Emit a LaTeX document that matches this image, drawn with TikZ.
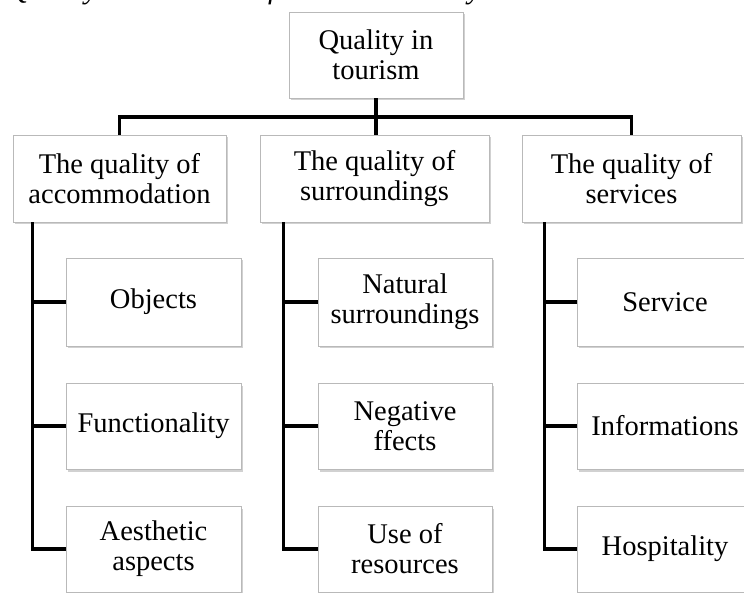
\documentclass[tikz,border=0pt]{standalone}
\usepackage{fontspec}
\setmainfont{Liberation Serif}
\usetikzlibrary{shadows,calc}
\tikzset{
  boxnode/.style={draw=gray!55, line width=0.8pt, fill=white, align=center,
    inner sep=0pt, font=\fontsize{28.5}{30}\selectfont,
    drop shadow={shadow xshift=1.5pt, shadow yshift=-2.5pt, fill=gray!45, opacity=0.8}},
  conn/.style={draw=black, line width=3.5pt, line join=miter}
}
\begin{document}
\begin{tikzpicture}[x=1pt,y=-1pt]
\useasboundingbox (0,0) rectangle (744,593);
\clip (0,0) rectangle (744,593);
\fill[white] (0,0) rectangle (744,593);
% cut-off title line (only its lowest part is visible, as in the reference)
\node[anchor=base west, inner sep=0pt, font=\fontsize{30}{32}\selectfont\itshape] (title) at (8,-1) {Quality as the basis of tourism industry};
% level 1
\node[boxnode, minimum width=174pt, minimum height=86pt] (top) at (376,55) {Quality in\\tourism};
% level 2
\node[boxnode, minimum width=213pt, minimum height=87pt] (l2a) at (119.5,178.5) {The quality of\\accommodation};
\node[boxnode, minimum width=229pt, minimum height=87pt] (l2b) at (374.5,178.5) {The quality of\\surroundings};
\node[boxnode, minimum width=219pt, minimum height=87pt] (l2c) at (631.5,178.5) {The quality of\\services};
% level 3, column 1
\node[boxnode, minimum width=175pt, minimum height=88pt] (a1) at (153.5,302) {Objects};
\node[boxnode, minimum width=175pt, minimum height=86pt] (a2) at (153.5,426) {Functionality};
\node[boxnode, minimum width=175pt, minimum height=86pt] (a3) at (153.5,549) {Aesthetic\\aspects};
% column 2
\node[boxnode, minimum width=174pt, minimum height=88pt] (b1) at (405,302) {Natural\\surroundings};
\node[boxnode, minimum width=174pt, minimum height=86pt] (b2) at (405,426) {Negative\\ffects};
\node[boxnode, minimum width=174pt, minimum height=86pt] (b3) at (405,549) {Use of\\resources};
% column 3
\node[boxnode, minimum width=176pt, minimum height=88pt] (c1) at (665,302) {Service};
\node[boxnode, minimum width=176pt, minimum height=86pt] (c2) at (665,426) {Informations};
\node[boxnode, minimum width=176pt, minimum height=86pt] (c3) at (665,549) {Hospitality};
% bus
\coordinate (busy) at (0,117);
\draw[conn] (top.south) -- (top.south |- l2b.north);
\draw[conn] (l2a.north) -- (l2a.north |- busy) -- (l2c.north |- busy) -- (l2c.north);
% trunks
\coordinate (ta) at ($(l2a.south west)+(20,0)$);
\coordinate (tb) at ($(l2b.south west)+(24,0)$);
\coordinate (tc) at ($(l2c.south west)+(23,0)$);
\draw[conn] (ta) |- (a3.west);
\draw[conn] (ta |- a1.west) -- (a1.west);
\draw[conn] (ta |- a2.west) -- (a2.west);
\draw[conn] (tb) |- (b3.west);
\draw[conn] (tb |- b1.west) -- (b1.west);
\draw[conn] (tb |- b2.west) -- (b2.west);
\draw[conn] (tc) |- (c3.west);
\draw[conn] (tc |- c1.west) -- (c1.west);
\draw[conn] (tc |- c2.west) -- (c2.west);
\end{tikzpicture}
\end{document}
